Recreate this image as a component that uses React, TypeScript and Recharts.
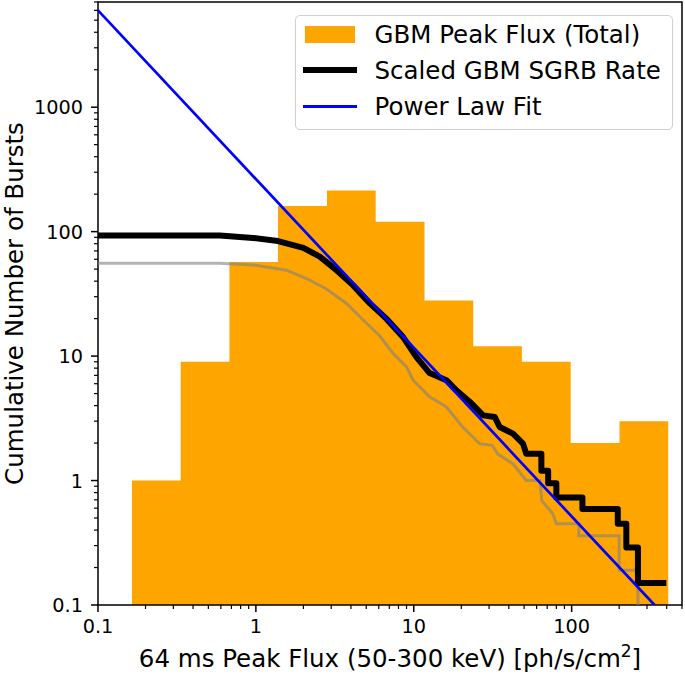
import React from "react";
import { ComposedChart, Area, Line, XAxis, YAxis, ReferenceArea } from "recharts";

// histogram of GBM peak flux (log bins)
const binEdges = [0.164, 0.334, 0.68, 1.38, 2.82, 5.74, 11.7, 23.8, 48.4, 98.6, 201, 409];
const binCounts = [1, 9, 57, 161, 214, 120, 28, 12, 9, 2, 3];

// scaled GBM SGRB rate (cumulative)
const blackFlux = [0.1, 0.59, 0.96, 1.38, 2.0, 2.54, 3.24, 4.13, 5.27, 6.7, 8.56, 10.4, 12.6, 16.1, 18.6, 22.6, 27.5, 32.6, 35, 42.5, 49.2, 51.6, 64.3, 64.3, 71, 71, 80, 80, 117, 117, 196, 196, 222, 222, 263, 263, 398];
const blackRate = [93, 93, 89, 84, 74, 63, 49, 37, 26.5, 20, 14.2, 9.8, 7.3, 6.4, 5.3, 4.3, 3.34, 3.24, 2.69, 2.38, 1.98, 1.64, 1.64, 1.2, 1.2, 0.95, 0.95, 0.73, 0.73, 0.59, 0.59, 0.45, 0.45, 0.29, 0.29, 0.15, 0.15];

// unscaled rate (grey)
const greyFlux = [0.1, 0.59, 0.96, 1.56, 2.09, 2.8, 3.75, 4.78, 6.1, 7.4, 9.0, 9.9, 12.6, 16.1, 20.4, 26.1, 31.4, 34, 42.5, 51.6, 63, 64.7, 76, 80, 111, 111, 200, 200, 263, 263];
const greyRate = [55.6, 55.6, 54, 49, 42, 34.6, 26.5, 19.5, 14.5, 10.5, 8.2, 6.4, 4.7, 3.9, 2.69, 1.98, 1.92, 1.64, 1.36, 1.0, 1.0, 0.69, 0.54, 0.45, 0.45, 0.36, 0.36, 0.19, 0.19, 0.1];

// power law fit end points
const fitFlux = [0.1, 335];
const fitRate = [6000, 0.1];

const xMajor = [0.1, 1, 10, 100];
const xTickLabels = ["0.1", "1", "10", "100"];
const yMajor = [0.1, 1, 10, 100, 1000];
const yTickLabels = ["0.1", "1", "10", "100", "1000"];

const X_DOMAIN: [number, number] = [0.1, 500];
const Y_DOMAIN: [number, number] = [0.1, 7000];

const FONT = "DejaVu Sans";

function withMinors(majors: number[], domain: [number, number]) {
  const out: number[] = [];
  majors.concat([majors[majors.length - 1] * 10]).forEach((m) => {
    for (let k = 1; k < 10; k++) {
      const v = +(m * k).toPrecision(3);
      if (v >= domain[0] && v <= domain[1]) out.push(v);
    }
  });
  return out;
}

const xTicks = withMinors(xMajor, X_DOMAIN);
const yTicks = withMinors(yMajor, Y_DOMAIN);

const histData = binEdges.map((e, i) => ({ x: e, y: binCounts[Math.min(i, binCounts.length - 1)] }));
const blackData = blackFlux.map((x, i) => ({ x, y: blackRate[i] }));
const greyData = greyFlux.map((x, i) => ({ x, y: greyRate[i] }));
const fitData = fitFlux.map((x, i) => ({ x, y: fitRate[i] }));

const XTick = (props: any) => {
  const { x, y, payload } = props;
  const idx = xMajor.indexOf(payload.value);
  const major = idx >= 0;
  return (
    <g>
      <line x1={x} x2={x} y1={y} y2={y + (major ? 7 : 4)} stroke="#000" strokeWidth={major ? 1.5 : 1.2} />
      {major && (
        <text x={x} y={y + 28} textAnchor="middle" fontSize={19.3} fontFamily={FONT} fill="#000">
          {xTickLabels[idx]}
        </text>
      )}
    </g>
  );
};

const YTick = (props: any) => {
  const { x, y, payload } = props;
  const idx = yMajor.indexOf(payload.value);
  const major = idx >= 0;
  return (
    <g>
      <line x1={x - (major ? 7 : 4)} x2={x} y1={y} y2={y} stroke="#000" strokeWidth={major ? 1.5 : 1.2} />
      {major && (
        <text x={x - 15} y={y + 7} textAnchor="end" fontSize={19.3} fontFamily={FONT} fill="#000">
          {yTickLabels[idx]}
        </text>
      )}
    </g>
  );
};

const XTitle = (props: any) => {
  const vb = props.viewBox || { x: 98, y: 605, width: 584 };
  return (
    <text x={vb.x + vb.width / 2} y={vb.y + 62} textAnchor="middle" fontSize={24.5} fontFamily={FONT} fill="#000">
      64 ms Peak Flux (50-300 keV) [ph/s/cm
      <tspan fontSize={17} dy={-10}>2</tspan>
      <tspan dy={10}>]</tspan>
    </text>
  );
};

const YTitle = (props: any) => {
  const vb = props.viewBox || { x: 0, y: 2, height: 603 };
  const cy = vb.y + vb.height / 2;
  return (
    <text x={23} y={cy} transform={`rotate(-90 23 ${cy})`} textAnchor="middle" fontSize={24.5} fontFamily={FONT} fill="#000">
      Cumulative Number of Bursts
    </text>
  );
};

const legendRows = [
  { label: "GBM Peak Flux (Total)", kind: "patch", color: "#ffa500" },
  { label: "Scaled GBM SGRB Rate", kind: "line", color: "#000000", width: 6 },
  { label: "Power Law Fit", kind: "line", color: "#0000ff", width: 3 },
];

function ChartLegend() {
  return (
    <div
      style={{
        position: "absolute",
        left: 295,
        top: 15,
        width: 378,
        height: 115,
        boxSizing: "border-box",
        border: "1.5px solid #d0d0d0",
        borderRadius: 5,
        background: "rgba(255,255,255,0.85)",
        fontFamily: FONT,
        fontSize: 24.5,
        color: "#000",
      }}
    >
      {legendRows.map((r, i) => (
        <div
          key={r.label}
          style={{ position: "absolute", left: 6.5, top: i * 36, height: 36, display: "flex", alignItems: "center", whiteSpace: "nowrap" }}
        >
          <div style={{ width: 54, height: 36, display: "flex", alignItems: "center", justifyContent: "center", marginRight: 18 }}>
            {r.kind === "patch" ? (
              <div style={{ width: 50, height: 17, background: r.color }} />
            ) : (
              <div style={{ width: 54, height: r.width, background: r.color }} />
            )}
          </div>
          <span>{r.label}</span>
        </div>
      ))}
    </div>
  );
}

export default function App() {
  return (
    <div style={{ position: "absolute", left: 0, top: 0, width: 685, height: 675, background: "#fff" }}>
      <ComposedChart width={685} height={675} margin={{ top: 2, right: 3, bottom: 0, left: 0 }}>
        <XAxis
          dataKey="x"
          type="number"
          scale="log"
          domain={X_DOMAIN}
          allowDataOverflow
          ticks={xTicks}
          interval={0}
          tick={<XTick />}
          tickLine={false}
          axisLine={false}
          tickSize={0}
          tickMargin={0}
          height={70}
          label={<XTitle />}
        />
        <YAxis
          type="number"
          scale="log"
          domain={Y_DOMAIN}
          allowDataOverflow
          ticks={yTicks}
          interval={0}
          tick={<YTick />}
          tickLine={false}
          axisLine={false}
          tickSize={0}
          tickMargin={0}
          width={98}
          label={<YTitle />}
        />
        <Area
          data={histData}
          dataKey="y"
          type="stepAfter"
          baseValue={0.1}
          fill="#ffa500"
          fillOpacity={1}
          stroke="none"
          isAnimationActive={false}
        />
        <Line
          data={greyData}
          dataKey="y"
          type="linear"
          stroke="#808080"
          strokeOpacity={0.6}
          strokeWidth={3}
          dot={false}
          isAnimationActive={false}
        />
        <Line
          data={blackData}
          dataKey="y"
          type="linear"
          stroke="#000000"
          strokeWidth={6}
          strokeLinejoin="round"
          dot={false}
          isAnimationActive={false}
        />
        <Line
          data={fitData}
          dataKey="y"
          type="linear"
          stroke="#0000ff"
          strokeWidth={2.7}
          dot={false}
          isAnimationActive={false}
        />
        <ReferenceArea x1={X_DOMAIN[0]} x2={X_DOMAIN[1]} y1={Y_DOMAIN[0]} y2={Y_DOMAIN[1]} fill="none" stroke="#000" strokeWidth={1.5} />
      </ComposedChart>
      <ChartLegend />
    </div>
  );
}
